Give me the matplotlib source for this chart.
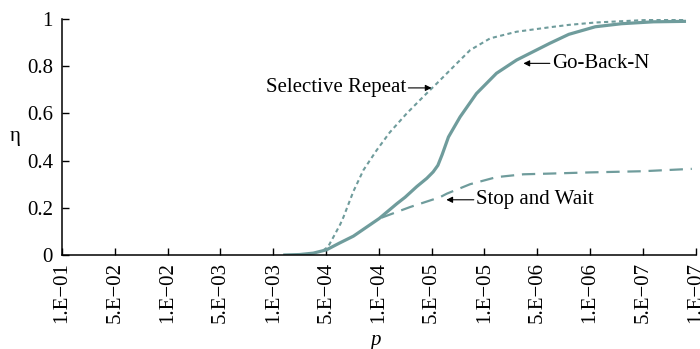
import numpy as np
import matplotlib
matplotlib.use("Agg")
from matplotlib import pyplot as plt

plt.rcParams['font.family'] = ['Liberation Serif', 'DejaVu Serif']

# x axis categories (error probability p)
p_labels = ["1.E\u221201", "5.E\u221202", "1.E\u221202", "5.E\u221203", "1.E\u221203",
            "5.E\u221204", "1.E\u221204", "5.E\u221205", "1.E\u221205", "5.E\u221206",
            "1.E\u221206", "5.E\u221207", "1.E\u221207"]
y_ticks = [0, 0.2, 0.4, 0.6, 0.8, 1]
y_labels = ["0", "0.2", "0.4", "0.6", "0.8", "1"]

# curves, x given as position along the category axis
gbn_x = [4.19, 4.5, 4.76, 5.01, 5.25, 5.52, 6.01, 6.34, 6.5, 6.72, 6.91, 7.03, 7.12,
         7.2, 7.32, 7.54, 7.85, 8.23, 8.61, 9.24, 9.6, 10.1, 10.6, 11.2, 11.82]
gbn_y = [0.0, 0.002, 0.008, 0.022, 0.05, 0.08, 0.155, 0.217, 0.245, 0.29, 0.325, 0.352,
         0.38, 0.425, 0.50, 0.585, 0.684, 0.77, 0.826, 0.897, 0.935, 0.967, 0.98,
         0.988, 0.99]

sr_x = [4.95, 5.04, 5.15, 5.27, 5.33, 5.52, 5.71, 5.96, 6.21, 6.53, 6.84, 7.10, 7.47,
        7.73, 8.11, 8.61, 9.24, 9.6, 10.1, 11.0, 11.82]
sr_y = [0.02, 0.035, 0.08, 0.13, 0.16, 0.27, 0.36, 0.444, 0.52, 0.60, 0.67, 0.727,
        0.81, 0.868, 0.918, 0.946, 0.965, 0.975, 0.985, 0.995, 1.0]

sw_x = [6.05, 6.59, 7.16, 7.29, 7.73, 8.23, 8.74, 9.24, 10.0, 11.0, 11.93]
sw_y = [0.158, 0.203, 0.245, 0.26, 0.30, 0.33, 0.342, 0.345, 0.35, 0.355, 0.365]

col = "#6f9c9c"

fig = plt.figure(figsize=(7, 3.49), dpi=100)
ax = fig.add_axes([0.0886, 0.2693, 0.905, 0.6763])

ax.plot(sw_x, sw_y, color=col, lw=1.6, dashes=(6, 3.5))
ax.plot(sr_x, sr_y, color=col, lw=1.5, dashes=(2, 1.6))
ax.plot(gbn_x, gbn_y, color=col, lw=2.3, solid_capstyle='butt')

arrow = dict(arrowstyle='-|>', color='black', lw=0.8, mutation_scale=9,
             shrinkA=0, shrinkB=0)
ax.annotate('', xy=(7.0, 0.708), xytext=(6.56, 0.708), arrowprops=arrow)
ax.text(6.52, 0.708, "Selective Repeat", ha='right', va='center', fontsize=15)
ax.annotate('', xy=(8.74, 0.812), xytext=(9.24, 0.812), arrowprops=arrow)
ax.text(9.28, 0.812, "Go-Back-N", ha='left', va='center', fontsize=15)
ax.annotate('', xy=(7.28, 0.234), xytext=(7.8, 0.234), arrowprops=arrow)
ax.text(7.84, 0.234, "Stop and Wait", ha='left', va='center', fontsize=15)

ax.set_xlim(0, 12)
ax.set_ylim(0, 1)
ax.set_xticks(np.arange(len(p_labels)))
ax.set_xticklabels(p_labels, rotation=90, fontsize=15)
ax.set_yticks(y_ticks)
ax.set_yticklabels(y_labels, fontsize=15)
ax.tick_params(direction='in', length=5, width=1)
ax.tick_params(axis='x', pad=5)
ax.tick_params(axis='y', pad=6.5)
for s in ['top', 'right']:
    ax.spines[s].set_visible(False)
for s in ['left', 'bottom']:
    ax.spines[s].set_linewidth(1.1)

fig.text(15 / 700, 1 - 137 / 349, "\u03b7", fontsize=15, ha='center', va='center')
fig.text(375 / 700, 1 - 340 / 349, "p", fontsize=15, style='italic',
         ha='center', va='center')

fig.savefig("out.png", dpi=100)
